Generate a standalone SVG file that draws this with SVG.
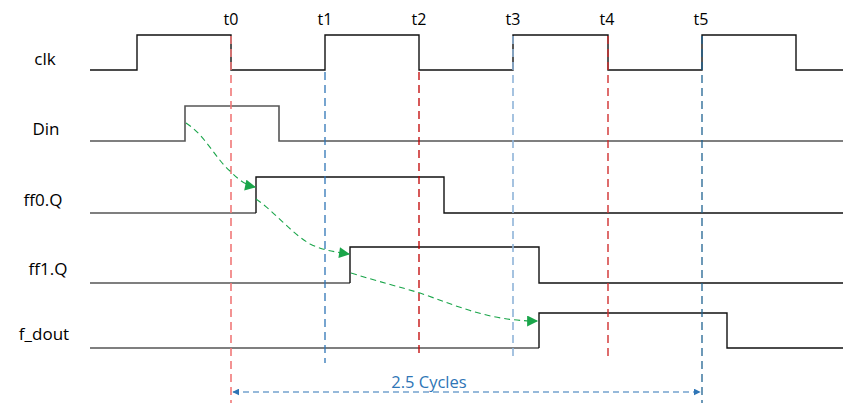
<svg xmlns="http://www.w3.org/2000/svg" width="847" height="408" viewBox="0 0 847 408">
<style>
.lbl{font-family:"Open Sans","Liberation Sans",sans-serif;font-size:17px;fill:#000;text-anchor:middle}
.tl{font-family:"Open Sans","Liberation Sans",sans-serif;font-size:16px;fill:#000;text-anchor:middle}
.sig{fill:none;stroke:#111;stroke-width:1.4}
.sigg{fill:none;stroke:#555;stroke-width:1.6}
.vd{fill:none;stroke-dasharray:8 5}
.grn{fill:none;stroke:#1aa54a;stroke-width:1.1;stroke-dasharray:6 4}
.cyc{fill:none;stroke:#2e75b6;stroke-width:1.2;stroke-dasharray:6 4}
</style>
<defs>
<marker id="ga" viewBox="0 0 10 10" refX="9" refY="5" markerWidth="12" markerHeight="11" markerUnits="userSpaceOnUse" orient="auto">
<path d="M0,0 L10,5 L0,10 z" fill="#1aa54a"/>
</marker>
<marker id="ba" viewBox="0 0 10 10" refX="9" refY="5" markerWidth="7" markerHeight="7" markerUnits="userSpaceOnUse" orient="auto-start-reverse">
<path d="M0,0 L10,5 L0,10 z" fill="#2e75b6"/>
</marker>
</defs>
<rect width="847" height="408" fill="#fff"/>
<g id="labels">
<text class="lbl" x="45" y="65">clk</text>
<text class="lbl" x="46" y="135">Din</text>
<text class="lbl" x="43" y="206">ff0.Q</text>
<text class="lbl" x="48" y="275">ff1.Q</text>
<text class="lbl" x="44" y="340">f_dout</text>
</g>
<g id="time-labels">
<text class="tl" x="231" y="25">t0</text>
<text class="tl" x="325" y="25">t1</text>
<text class="tl" x="419" y="25">t2</text>
<text class="tl" x="513" y="25">t3</text>
<text class="tl" x="607" y="25">t4</text>
<text class="tl" x="701" y="25">t5</text>
</g>
<g id="clk">
<path class="sig" d="M90,70 H137 V35 H231 V70 H325 V35 H419 V70 H513 V35 H608 V70 H702 V35 H796 V70 H843"/>
</g>
<g id="din">
<path class="sigg" d="M90,141 H185 V106 H279 V141 H843"/>
</g>
<g id="ff0q">
<path class="sigg" d="M90,213 H256"/>
<path class="sig" d="M256,213 V177 H444 V213 H843"/>
</g>
<g id="ff1q">
<path class="sigg" d="M90,283 H350"/>
<path class="sig" d="M350,283 V247 H539 V283 H843"/>
</g>
<g id="fdout">
<path class="sigg" d="M90,348 H539"/>
<path class="sig" d="M539,348 V313 H727 V348 H843"/>
</g>
<g id="connectors">
<path class="vd" stroke="#f07878" stroke-width="1.6" d="M231,36 V403"/>
<path class="vd" stroke="#2e75b6" stroke-width="1.3" d="M325,72 V363"/>
<path class="vd" stroke="#c00000" stroke-width="1.3" d="M419,72 V357"/>
<path class="vd" stroke="#8fb4d9" stroke-width="1.6" d="M513,36 V356"/>
<path class="vd" stroke="#d03030" stroke-width="1.4" d="M608,36 V357"/>
<path class="vd" stroke="#1f6391" stroke-width="1.3" d="M702,36 V403"/>
<path class="grn" marker-end="url(#ga)" d="M186,123 C205,135 215,158 230,171 C238,179 245,185 255,187"/>
<path class="grn" marker-end="url(#ga)" d="M256,199 C275,212 290,232 310,244 C322,250 335,252 349,254"/>
<path class="grn" marker-end="url(#ga)" d="M351,273 C380,282 400,287 420,293 C460,307 490,321 537,321"/>
<path class="cyc" marker-start="url(#ba)" marker-end="url(#ba)" d="M233,392 H700"/>
<text x="429" y="388" font-family="Open Sans, Liberation Sans, sans-serif" font-size="16.5" fill="#2e75b6" text-anchor="middle">2.5 Cycles</text>
</g>
</svg>
